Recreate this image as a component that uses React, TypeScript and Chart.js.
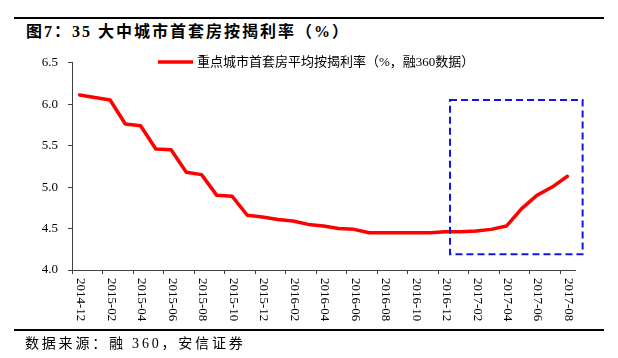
import React, { useEffect, useRef } from 'react';
import { Chart, registerables } from 'chart.js';

Chart.register(...registerables);

const titleText = '图7：35 大中城市首套房按揭利率（%）';
const sourceText = '数据来源：融 360，安信证券';
const legendLabel = '重点城市首套房平均按揭利率（%，融360数据）';

const months = [
  '2014-12',
  '2015-01', '2015-02', '2015-03', '2015-04', '2015-05', '2015-06',
  '2015-07', '2015-08', '2015-09', '2015-10', '2015-11', '2015-12',
  '2016-01', '2016-02', '2016-03', '2016-04', '2016-05', '2016-06',
  '2016-07', '2016-08', '2016-09', '2016-10', '2016-11', '2016-12',
  '2017-01', '2017-02', '2017-03', '2017-04', '2017-05', '2017-06',
  '2017-07', '2017-08',
];

const rates = [
  6.11,
  6.08, 6.05, 5.76, 5.74, 5.46, 5.45,
  5.18, 5.15, 4.90, 4.89, 4.66, 4.64,
  4.61, 4.59, 4.55, 4.53, 4.50, 4.49,
  4.45, 4.45, 4.45, 4.45, 4.45, 4.46,
  4.46, 4.47, 4.49, 4.53, 4.74, 4.90,
  5.00, 5.13,
];

const yMin = 4.0;
const yMax = 6.5;
const yStep = 0.5;

// highlight box, in data units (category index, rate)
const boxXFrom = 24.3;
const boxXTo = 33.0;
const boxYLow = 4.19;
const boxYHigh = 6.05;

const axisColor = '#404040';
const serif = '"Liberation Serif", "Times New Roman", "Noto Sans CJK SC", serif';

const overlay = {
  id: 'overlay',
  afterDraw(chart: any) {
    const ctx = chart.ctx;
    const xs = chart.scales.x;
    const ys = chart.scales.y;
    const area = chart.chartArea;
    ctx.save();
    // x tick marks at category boundaries (every 2 months)
    ctx.strokeStyle = axisColor;
    ctx.lineWidth = 1;
    for (let i = 0; i < months.length; i += 2) {
      const px = Math.round(xs.getPixelForValue(i - 0.5)) + 0.5;
      ctx.beginPath();
      ctx.moveTo(px, area.bottom);
      ctx.lineTo(px, area.bottom + 4);
      ctx.stroke();
    }
    // x labels, rotated clockwise
    ctx.fillStyle = '#000';
    ctx.font = '13px ' + serif;
    ctx.textAlign = 'left';
    ctx.textBaseline = 'middle';
    for (let i = 0; i < months.length; i += 2) {
      const px = xs.getPixelForValue(i);
      ctx.save();
      ctx.translate(px + 1, area.bottom + 8);
      ctx.rotate(Math.PI / 2);
      ctx.fillText(months[i], 0, 0);
      ctx.restore();
    }
    // dashed highlight box
    const bx1 = xs.getPixelForValue(boxXFrom);
    const bx2 = xs.getPixelForValue(boxXTo);
    const by1 = ys.getPixelForValue(boxYHigh);
    const by2 = ys.getPixelForValue(boxYLow);
    ctx.strokeStyle = '#1414E6';
    ctx.lineWidth = 2;
    ctx.setLineDash([7, 4]);
    ctx.strokeRect(bx1, by1, bx2 - bx1, by2 - by1);
    ctx.setLineDash([]);
    // legend
    const ly = 62;
    ctx.strokeStyle = '#FF0000';
    ctx.lineWidth = 3.5;
    ctx.beginPath();
    ctx.moveTo(158, ly);
    ctx.lineTo(193, ly);
    ctx.stroke();
    ctx.fillStyle = '#000';
    ctx.font = '13px ' + serif;
    ctx.textAlign = 'left';
    ctx.textBaseline = 'middle';
    ctx.fillText(legendLabel, 197, ly + 1);
    ctx.restore();
  },
};

export default function App() {
  const ref = useRef<HTMLCanvasElement>(null);
  useEffect(() => {
    if (!ref.current) return;
    const chart = new Chart(ref.current, {
      type: 'line',
      data: {
        labels: months,
        datasets: [
          {
            label: legendLabel,
            data: rates,
            borderColor: '#FF0000',
            backgroundColor: '#FF0000',
            borderWidth: 3.5,
            pointRadius: 0,
            tension: 0,
            borderJoinStyle: 'round',
            borderCapStyle: 'round',
          },
        ],
      },
      options: {
        responsive: false,
        animation: false,
        devicePixelRatio: 1,
        layout: { padding: { left: 0, right: 43, top: 62.7, bottom: 88 } },
        plugins: { legend: { display: false }, tooltip: { enabled: false }, title: { display: false } },
        scales: {
          x: {
            type: 'category',
            offset: true,
            ticks: { display: false },
            grid: { display: false },
            border: { display: true, color: axisColor, width: 1 },
            afterFit: (s: any) => { s.height = 0; },
          },
          y: {
            min: yMin,
            max: yMax,
            ticks: {
              stepSize: yStep,
              padding: 10,
              color: '#000',
              font: { family: serif, size: 13 },
              callback: (v: any) => Number(v).toFixed(1),
            },
            grid: { drawOnChartArea: false, drawTicks: true, tickLength: 4, color: axisColor },
            border: { display: true, color: axisColor, width: 1 },
            afterFit: (s: any) => { s.width = 72; },
          },
        },
      },
      plugins: [overlay],
    });
    return () => chart.destroy();
  }, []);

  return (
    <div style={{ position: 'absolute', left: 0, top: 0, width: 618, height: 358, background: '#fff', overflow: 'hidden' }}>
      <div style={{ position: 'absolute', left: 14, top: 17, width: 590, height: 2, background: '#000' }} />
      <div
        style={{
          position: 'absolute', left: 26, top: 21, whiteSpace: 'nowrap',
          font: 'bold 16px ' + serif, letterSpacing: '2px', color: '#000', lineHeight: '22px',
        }}
      >
        {titleText}
      </div>
      <canvas ref={ref} width={618} height={358} style={{ position: 'absolute', left: 0, top: 0 }} />
      <div style={{ position: 'absolute', left: 14, top: 329, width: 590, height: 2, background: '#000' }} />
      <div
        style={{
          position: 'absolute', left: 25, top: 334, whiteSpace: 'nowrap',
          font: '14px ' + serif, letterSpacing: '2.8px', color: '#000', lineHeight: '20px',
        }}
      >
        {sourceText}
      </div>
    </div>
  );
}
